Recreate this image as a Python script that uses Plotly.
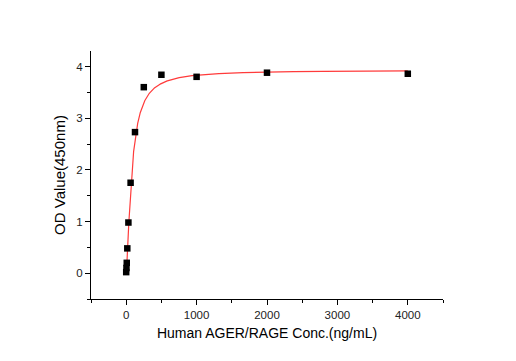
import numpy as np
import plotly.graph_objects as go

# Measured standards (concentration ng/mL, OD450)
conc = [0, 3.9, 7.8, 15.6, 31.25, 62.5, 125, 250, 500, 1000, 2000, 4000]
od = [0.02, 0.10, 0.20, 0.48, 0.98, 1.75, 2.73, 3.60, 3.84, 3.80, 3.88, 3.86]

# 4-parameter logistic fit parameters
fit_a = 0.0
fit_d = 3.93
fit_c = 80.0
fit_b = 1.45

xs = np.unique(np.concatenate([np.linspace(0, 300, 600), np.linspace(0, 4000, 2000)]))
ys = fit_d + (fit_a - fit_d) / (1 + (xs / fit_c) ** fit_b)

fig = go.Figure()
fig.add_trace(go.Scatter(x=xs, y=ys, mode="lines",
                         line=dict(color="#ff3b3b", width=1.2),
                         hoverinfo="skip", showlegend=False))
fig.add_trace(go.Scatter(x=conc, y=od, mode="markers",
                         marker=dict(symbol="square", size=6.5, color="black"),
                         showlegend=False))

axis_common = dict(showgrid=False, zeroline=False, showline=True, automargin=False,
                   linecolor="black", linewidth=1.2, ticks="outside",
                   ticklen=5, tickwidth=1.2, tickcolor="black",
                   tickfont=dict(family="Liberation Sans, Arial", size=11.5, color="#222"))

fig.update_xaxes(range=[-500, 4500], tick0=0, dtick=1000,
                 minor=dict(ticks="outside", ticklen=3, tickwidth=1.2,
                            tickcolor="black", dtick=500, tick0=0),
                 title=dict(text="Human AGER/RAGE Conc.(ng/mL)",
                            font=dict(family="Liberation Sans, Arial", size=14, color="black"),
                            standoff=8),
                 **axis_common)
fig.update_yaxes(range=[-0.5, 4.3], tick0=0, dtick=1,
                 minor=dict(ticks="outside", ticklen=3, tickwidth=1.2,
                            tickcolor="black", dtick=0.5, tick0=0),
                 title=dict(text="OD Value(450nm)",
                            font=dict(family="Liberation Sans, Arial", size=15, color="black"),
                            standoff=6),
                 **axis_common)

# page body adds an 8px offset, so the figure is sized to fit the window
fig.update_layout(width=508, height=353,
                  margin=dict(l=83, r=73, t=43, b=62),
                  plot_bgcolor="white", paper_bgcolor="white")

fig.write_html("out.html")
